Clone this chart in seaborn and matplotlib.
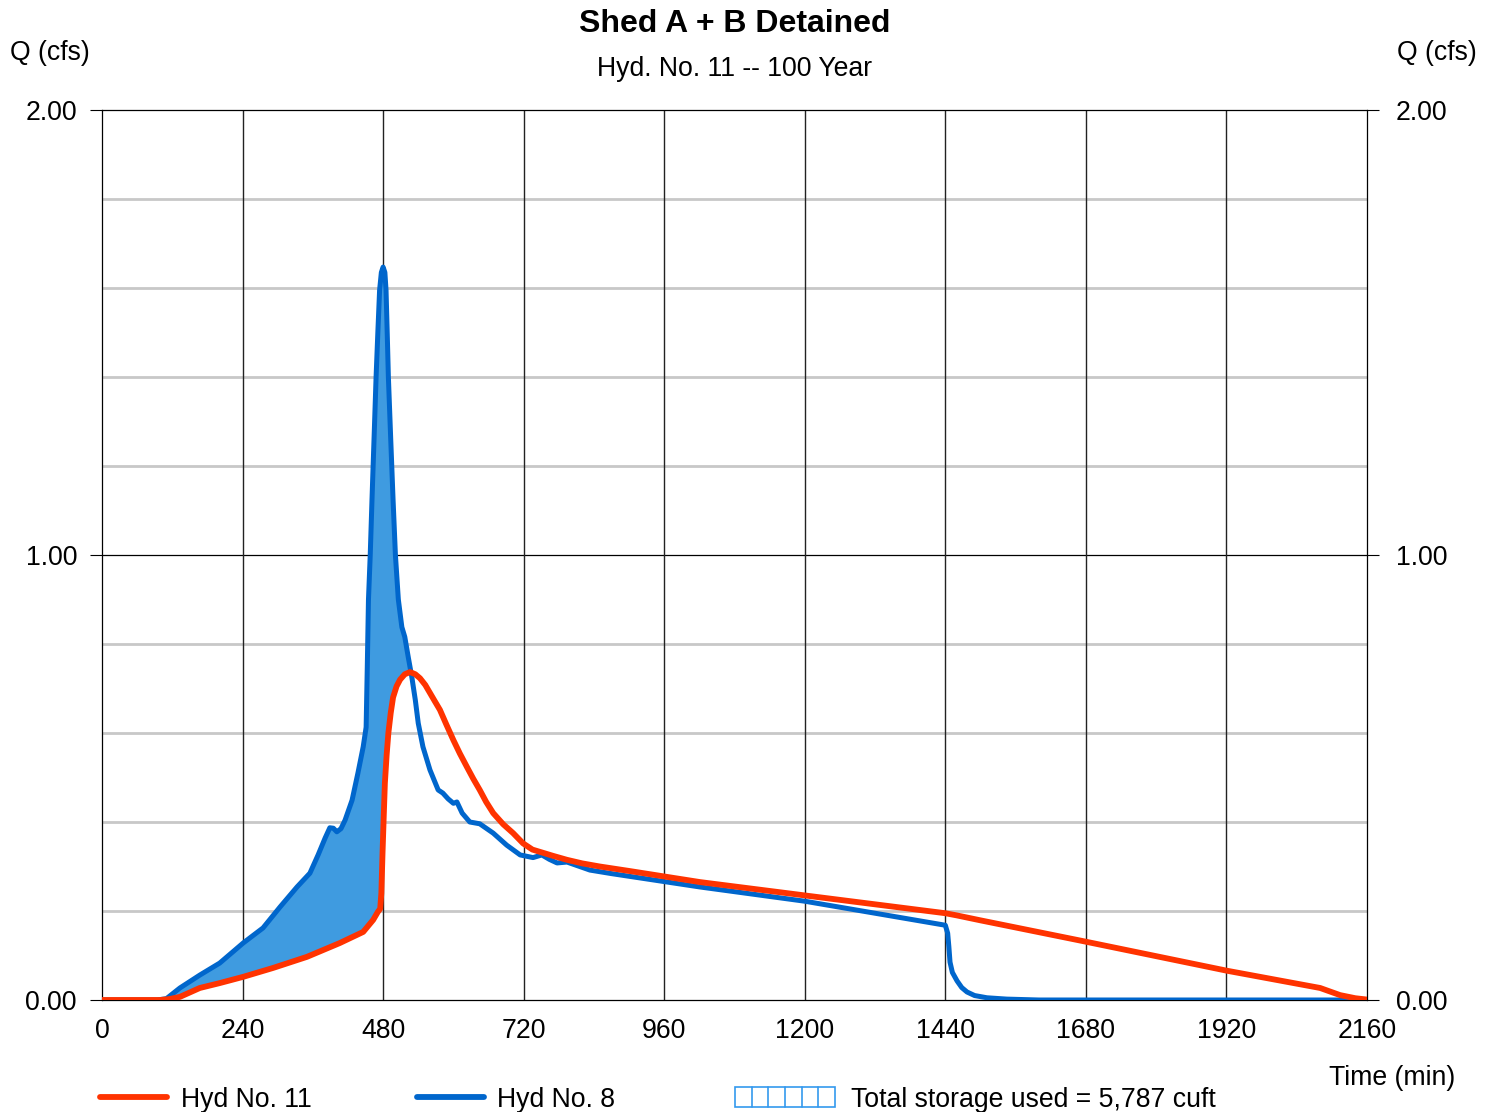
import numpy as np
import pandas as pd
import matplotlib
matplotlib.use("Agg")
import matplotlib.pyplot as plt
import seaborn as sns
from matplotlib.lines import Line2D
from matplotlib.patches import Rectangle

# Hyd No. 8 - inflow hydrograph (time in min, flow in cfs)
inflow_time = [0, 94, 110, 133, 167, 201, 241, 275, 304, 333, 355, 369, 381, 389, 395,
               401, 408, 415, 427, 437, 446, 451, 453, 455, 458, 461, 465, 468, 471, 474,
               477, 480, 483, 485, 487, 489, 493, 497, 501, 506, 512, 517, 523, 529, 535,
               540, 548, 560, 574, 582, 591, 600, 606, 615, 628, 645, 668, 691, 714, 736,
               751, 764, 777, 794, 833, 870, 1021, 1200, 1320, 1440, 1444, 1446, 1448,
               1452, 1460, 1468, 1477, 1490, 1511, 1545, 1600, 2160]
inflow_q = [0.0, 0.0, 0.003, 0.027, 0.056, 0.083, 0.128, 0.162, 0.209, 0.254, 0.285,
            0.326, 0.364, 0.387, 0.386, 0.378, 0.385, 0.404, 0.449, 0.510, 0.569, 0.613,
            0.750, 0.900, 1.000, 1.124, 1.280, 1.400, 1.500, 1.595, 1.635, 1.647, 1.635,
            1.595, 1.500, 1.400, 1.260, 1.124, 1.000, 0.900, 0.838, 0.816, 0.770, 0.726,
            0.674, 0.622, 0.569, 0.517, 0.472, 0.465, 0.452, 0.442, 0.445, 0.420, 0.400,
            0.396, 0.375, 0.348, 0.326, 0.320, 0.326, 0.316, 0.308, 0.310, 0.292, 0.284,
            0.254, 0.222, 0.195, 0.168, 0.150, 0.120, 0.085, 0.062, 0.043, 0.028, 0.018,
            0.010, 0.005, 0.002, 0.0, 0.0]

# Hyd No. 11 - detained outflow hydrograph
outflow_time = [0, 99, 115, 133, 167, 201, 241, 292, 350, 406, 446, 463, 471, 475, 477,
                479, 481, 483, 486, 489, 493, 497, 503, 509, 517, 526, 535, 543, 552, 560,
                568, 577, 588, 600, 611, 623, 634, 645, 656, 668, 685, 702, 719, 735, 750,
                770, 794, 820, 850, 900, 1021, 1200, 1320, 1440, 1460, 1500, 1680, 1920,
                2080, 2114, 2140, 2160]
outflow_q = [0.0, 0.0, 0.002, 0.007, 0.027, 0.038, 0.052, 0.072, 0.097, 0.128, 0.153,
             0.180, 0.198, 0.205, 0.240, 0.330, 0.410, 0.487, 0.550, 0.600, 0.645, 0.680,
             0.705, 0.720, 0.732, 0.737, 0.732, 0.723, 0.708, 0.690, 0.672, 0.652, 0.619,
             0.584, 0.554, 0.524, 0.497, 0.472, 0.445, 0.420, 0.395, 0.375, 0.352, 0.338,
             0.332, 0.324, 0.315, 0.307, 0.300, 0.290, 0.265, 0.235, 0.215, 0.195, 0.190,
             0.179, 0.131, 0.066, 0.027, 0.011, 0.004, 0.001]

x_ticks = [0, 240, 480, 720, 960, 1200, 1440, 1680, 1920, 2160]
y_ticks = [0.0, 1.0, 2.0]
y_tick_labels = ["0.00", "1.00", "2.00"]
y_minor = [0.2, 0.4, 0.6, 0.8, 1.2, 1.4, 1.6, 1.8]

title = "Shed A + B Detained"
subtitle = "Hyd. No. 11 -- 100 Year"
storage_text = "Total storage used = 5,787 cuft"

RED = "#FF3300"
BLUE = "#0066CC"
FILL = "#3F9BE0"

sns.set_style("white")
plt.rcParams["font.family"] = ["Liberation Sans", "DejaVu Sans"]
plt.rcParams["text.color"] = "black"
plt.rcParams["xtick.color"] = "black"
plt.rcParams["ytick.color"] = "black"

W, H = 1494, 1112
fig = plt.figure(figsize=(W / 100, H / 100), dpi=100)
ax = fig.add_axes([102 / W, 1 - 1000 / H, (1367 - 102) / W, (1000 - 110) / H])

inflow = pd.DataFrame({"t": inflow_time, "q": inflow_q})
outflow = pd.DataFrame({"t": outflow_time, "q": outflow_q})

# storage region: inflow above outflow on the rising limb
grid = np.union1d(inflow_time, outflow_time)
grid = grid[grid <= 540]
qi = np.interp(grid, inflow_time, inflow_q)
qo = np.interp(grid, outflow_time, outflow_q)
ax.fill_between(grid, qo, qi, where=qi > qo, interpolate=True, color=FILL,
                linewidth=0, zorder=2)

sns.lineplot(data=inflow, x="t", y="q", ax=ax, color=BLUE, linewidth=3.6,
             estimator=None, sort=False, zorder=3, solid_joinstyle="round",
             solid_capstyle="round")
sns.lineplot(data=outflow, x="t", y="q", ax=ax, color=RED, linewidth=4.2,
             estimator=None, sort=False, zorder=4, solid_joinstyle="round",
             solid_capstyle="round")

ax.set_xlim(0, 2160)
ax.set_ylim(0, 2.0)
ax.set_xlabel("")
ax.set_ylabel("")

# grid lines
for y in y_minor:
    ax.axhline(y, color="#C8C8C8", linewidth=2.0, zorder=1)
ax.axhline(1.0, color="black", linewidth=0.9, zorder=1)
for x in x_ticks[1:-1]:
    ax.axvline(x, color="#222222", linewidth=1.0, zorder=1)

for s in ax.spines.values():
    s.set_color("black")
    s.set_linewidth(0.9)
    s.set_visible(True)

ax.set_xticks(x_ticks)
ax.set_xticklabels([str(v) for v in x_ticks])
ax.tick_params(axis="x", length=0, pad=13, labelsize=19.2)
ax.set_yticks(y_ticks)
ax.set_yticklabels(y_tick_labels)
ax.tick_params(axis="y", direction="out", length=8.6, width=0.8, color="black",
               pad=9.4, labelsize=19.2, left=True, right=False)

ax2 = ax.twinx()
ax2.set_ylim(0, 2.0)
ax2.set_yticks(y_ticks)
ax2.set_yticklabels(y_tick_labels)
ax2.tick_params(axis="y", direction="out", length=8.6, width=0.8, color="black",
                pad=12, labelsize=19.2, right=True, left=False)
for s in ax2.spines.values():
    s.set_visible(False)

def fx(px):
    return px / W

def fy(py):
    return 1 - py / H

fig.text(fx(735), fy(24), title, ha="center", va="center", fontsize=23,
         fontweight="bold")
fig.text(fx(735), fy(69), subtitle, ha="center", va="center", fontsize=19.2)
fig.text(fx(10), fy(53), "Q (cfs)", ha="left", va="center", fontsize=19.2)
fig.text(fx(1477), fy(53), "Q (cfs)", ha="right", va="center", fontsize=19.2)
fig.text(fx(1455), fy(1078), "Time (min)", ha="right", va="center", fontsize=19.2)

# legend
ly = fy(1097)
lty = fy(1100)
fig.add_artist(Line2D([fx(100), fx(167)], [ly, ly], color=RED, linewidth=4.2,
                      solid_capstyle="round"))
fig.text(fx(181), lty, "Hyd No. 11", ha="left", va="center", fontsize=19.2)
fig.add_artist(Line2D([fx(417), fx(484)], [ly, ly], color=BLUE, linewidth=4.2,
                      solid_capstyle="round"))
fig.text(fx(497), lty, "Hyd No. 8", ha="left", va="center", fontsize=19.2)
bx0, bx1, by0, by1 = 735, 835, 1087, 1107
fig.add_artist(Rectangle((fx(bx0), fy(by1)), fx(bx1) - fx(bx0), fy(by0) - fy(by1),
                         facecolor="white", edgecolor="#3399EE", linewidth=1.2))
for px in np.linspace(bx0, bx1, 7)[1:-1]:
    fig.add_artist(Line2D([fx(px), fx(px)], [fy(by1), fy(by0)], color="#3399EE",
                          linewidth=1.2))
fig.text(fx(851), lty, storage_text, ha="left", va="center", fontsize=19.2)

fig.savefig("out.png", dpi=100, facecolor="white")
